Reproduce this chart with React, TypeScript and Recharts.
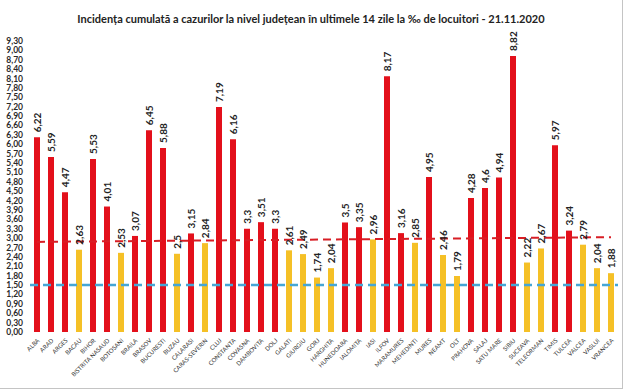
import React from 'react';
import { BarChart, Bar, XAxis, YAxis, ReferenceLine, Cell, LabelList } from 'recharts';

const counties = ['ALBA','ARAD','ARGES','BACAU','BIHOR','BISTRITA NASAUD','BOTOSANI','BRAILA','BRASOV','BUCURESTI','BUZAU','CALARASI','CARAS-SEVERIN','CLUJ','CONSTANTA','COVASNA','DAMBOVITA','DOLJ','GALATI','GIURGIU','GORJ','HARGHITA','HUNEDOARA','IALOMITA','IASI','ILFOV','MARAMURES','MEHEDINTI','MURES','NEAMT','OLT','PRAHOVA','SALAJ','SATU MARE','SIBIU','SUCEAVA','TELEORMAN','TIMIS','TULCEA','VALCEA','VASLUI','VRANCEA'];
const incidence = [6.22,5.59,4.47,2.63,5.53,4.01,2.53,3.07,6.45,5.88,2.5,3.15,2.84,7.19,6.16,3.3,3.51,3.3,2.61,2.49,1.74,2.04,3.5,3.35,2.96,8.17,3.16,2.85,4.95,2.46,1.79,4.28,4.6,4.94,8.82,2.22,2.67,5.97,3.24,2.79,2.04,1.88];
const yTicks = [0,0.3,0.6,0.9,1.2,1.5,1.8,2.1,2.4,2.7,3.0,3.3,3.6,3.9,4.2,4.5,4.8,5.1,5.4,5.7,6.0,6.3,6.6,6.9,7.2,7.5,7.8,8.1,8.4,8.7,9.0,9.3];
const redThresholdStart = 2.88;
const redThresholdEnd = 3.03;
const blueThreshold = 1.5;
const title = 'Incidența cumulată a cazurilor la nivel județean în ultimele 14 zile la ‰ de locuitori - 21.11.2020';

const RED = '#E3101B';
const YELLOW = '#F5C026';
const FONT = 'Lato, "Open Sans", sans-serif';

const data = counties.map((c, i) => ({ name: c, value: incidence[i] }));

const fmt = (v: number) => String(v).replace('.', ',');

const XTick = (props: any) => {
  const { x, y, payload } = props;
  return (
    <text transform={`translate(${x + 3},${y + 1}) rotate(-45)`} textAnchor="end" fontSize={6} fontFamily={FONT} fill="#333">
      {payload.value}
    </text>
  );
};

const YTick = (props: any) => {
  const { x, y, payload } = props;
  return (
    <text x={x} y={y} textAnchor="end" dominantBaseline="central" fontSize={8.5} fontWeight={700} fontFamily={FONT} fill="#2a2a2a">
      {payload.value.toFixed(2).replace('.', ',')}
    </text>
  );
};

const ValueLabel = (props: any) => {
  const { x, y, width, value } = props;
  const cx = Number(x) + Number(width) / 2;
  const ty = Number(y) - 5;
  return (
    <text transform={`translate(${cx},${ty}) rotate(-90)`} textAnchor="start" dominantBaseline="central" fontSize={10} fontWeight={700} fontFamily={FONT} fill="#222">
      {fmt(value)}
    </text>
  );
};

export default function App() {
  return (
    <div style={{ position: 'absolute', left: 0, top: 0, width: 635, height: 392, background: '#fff', fontFamily: FONT }}>
      <div style={{ position: 'absolute', left: -1, top: -1, width: 622, height: 388, border: '1px solid #c4c4c4' }} />
      <BarChart width={635} height={392} data={data} margin={{ top: 41, right: 17, left: 0, bottom: 0 }} barCategoryGap={0}>
        <text x={311} y={18} textAnchor="middle" dominantBaseline="central" fontSize={11} fontWeight={700} fontFamily={FONT} fill="#222">
          {title}
        </text>
        <XAxis dataKey="name" interval={0} tickLine={false} axisLine={false} height={60} tick={<XTick />} />
        <YAxis domain={[0, 9.3]} ticks={yTicks} interval={0} width={30} tickLine={false} axisLine={false} tick={<YTick />} tickMargin={1} />
        <Bar dataKey="value" barSize={6} isAnimationActive={false}>
          {data.map((d, i) => (
            <Cell key={i} fill={d.value > 3 ? RED : YELLOW} />
          ))}
          <LabelList dataKey="value" content={<ValueLabel />} />
        </Bar>
        <ReferenceLine y={blueThreshold} stroke="#45A6D6" strokeWidth={2.5} strokeDasharray="8 5" ifOverflow="extendDomain" />
        <ReferenceLine
          segment={[{ x: counties[0], y: redThresholdStart }, { x: counties[counties.length - 1], y: redThresholdEnd }]}
          stroke="#D81E25"
          strokeWidth={2}
          strokeDasharray="8 5"
        />
      </BarChart>
    </div>
  );
}
